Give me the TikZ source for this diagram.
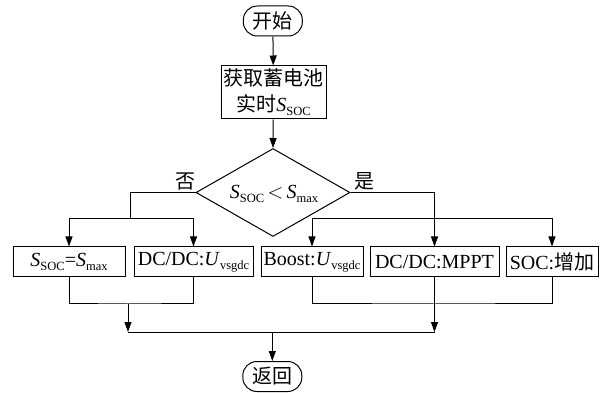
\documentclass[tikz,border=0pt]{standalone}
\usepackage{fontspec}
\setmainfont{Liberation Serif}
\newfontfamily\cjk{Noto Sans CJK SC}
\usetikzlibrary{arrows.meta,shapes.geometric}
\newcommand{\subtx}[1]{\raisebox{-4pt}{\fontsize{12.5}{12.5}\selectfont #1}}
\newcommand{\Ssoc}{{\rmfamily\textit{S}\subtx{SOC}}}
\newcommand{\Smx}{{\rmfamily\textit{S}\subtx{max}}}
\newcommand{\Uvs}{{\rmfamily\textit{U}\subtx{vsgdc}}}
\begin{document}
\begin{tikzpicture}[x=1pt,y=-1pt,
  every node/.style={font=\fontsize{20}{26}\selectfont},
  term/.style={draw,line width=1pt,rounded corners=14pt,minimum width=59pt,minimum height=30pt,inner sep=0pt},
  boxn/.style={draw,line width=1pt,minimum height=30pt,inner sep=0pt},
  arr/.style={line width=1pt,-{Triangle[length=10pt,width=7pt]}},
  ln/.style={line width=1pt}]
\useasboundingbox (0,0) rectangle (606,393);
\node[term] (start) at (272.8,21) {\cjk 开始};
\node[boxn,minimum width=105pt,minimum height=53pt,align=center] (get) at (273.5,92.5) {{\cjk 获取蓄电池}\\{\cjk 实时}\Ssoc};
\node[diamond,draw,line width=1pt,minimum width=154pt,minimum height=88pt,inner sep=0pt] (dec) at (273,192.5) {};
\node (dectext) at (274,194) {\Ssoc\,$<$\,\Smx};
\node (no) at (185,181) {\cjk 否};
\node (yes) at (364,181) {\cjk 是};
\node[boxn,minimum width=112pt] (b1) at (69,262) {\Ssoc=\Smx};
\node[boxn,minimum width=119pt] (b2) at (193.5,262) {DC/DC:\Uvs};
\node[boxn,minimum width=102pt] (b3) at (312,262) {Boost:\Uvs};
\node[boxn,minimum width=129pt] (b4) at (434.5,262) {DC/DC:MPPT};
\node[boxn,minimum width=92pt] (b5) at (552,262) {SOC:{\cjk 增加}};
\node[term] (end) at (272.3,376.5) {\cjk 返回};
\coordinate (jl) at (130,218.5);
\coordinate (jr) at (434.5,218.5);
\coordinate (bl) at (128,304);
\coordinate (br) at (434.5,304);
\coordinate (ll) at (128,332);
\coordinate (rr) at (434.5,332);
\coordinate (mm) at (272.3,332);
\draw[arr] (start) -- (get);
\draw[arr] (get) -- (dec.north);
\draw[ln] (dec.west) -| (jl);
\draw[arr] (jl) -| (b1.north);
\draw[arr] (jl) -| (b2.north);
\draw[arr] (dec.east) -| (b4.north);
\draw[arr] (jr) -| (b3.north);
\draw[arr] (jr) -| (b5.north);
\draw[ln] (b1.south) |- (bl) -| (b2.south);
\draw[ln] (b3.south) |- (br) -| (b5.south);
\draw[ln] (b4.south) -- (br);
\draw[arr] (bl) -- (ll);
\draw[arr] (br) -- (rr);
\draw[ln] (ll) -- (rr);
\draw[arr] (mm) -- (end);
\end{tikzpicture}
\end{document}
